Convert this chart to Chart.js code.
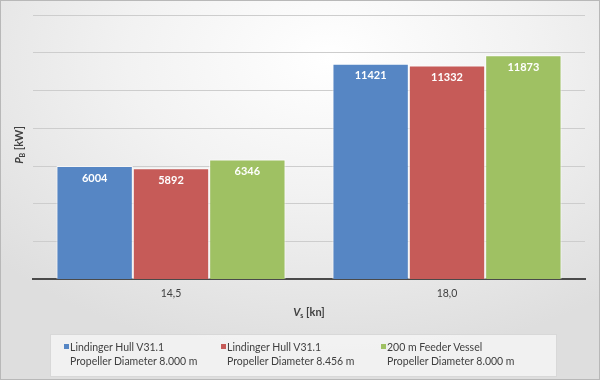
<!DOCTYPE html>
<html>
<head>
<meta charset="utf-8">
<script src="https://cdn.jsdelivr.net/npm/chart.js@4.4.0/dist/chart.umd.min.js"></script>
<style>
  html, body { margin: 0; padding: 0; }
  #wrap {
    position: relative; width: 598px; height: 378px;
    border: 1px solid #b8b8b8;
    background: radial-gradient(ellipse 75% 80% at 55% 15%, #ffffff 0%, #f2f2f2 45%, #dedede 100%);
    font-family: Lato, "Liberation Sans", sans-serif;
  }
  #chart { position: absolute; left: -1px; top: -1px; }
  #legend {
    position: absolute; left: 49px; top: 333px; width: 505px; height: 41px;
    background: rgba(244,244,244,0.85); border: 1px solid #d8d8d8;
    font-size: 10.5px; color: #404040; line-height: 14px;
  }
  .item { position: absolute; top: 5px; }
  .sw { position: absolute; left: -6px; top: 4px; width: 5px; height: 5px; }
</style>
</head>
<body>
<div id="wrap">
  <canvas id="chart" width="600" height="380"></canvas>
  <div id="legend"></div>
</div>
<script>
const speeds = ['14,5', '18,0'];
const seriesNames = [
    ['Lindinger Hull V31.1', 'Propeller Diameter 8.000 m'],
    ['Lindinger Hull V31.1', 'Propeller Diameter 8.456 m'],
    ['200 m Feeder Vessel', 'Propeller Diameter 8.000 m']
];
const hullA = [6004, 11421];
const hullB = [5892, 11332];
const feeder = [6346, 11873];
const colors = ['#5686c4', '#c65b58', '#9fc163'];

// value labels inside the top of each bar
const barLabels = {
    id: 'barLabels',
    afterDatasetsDraw(chart) {
        const ctx = chart.ctx;
        ctx.save();
        ctx.font = 'bold 11px Lato, "Liberation Sans", sans-serif';
        ctx.fillStyle = '#ffffff';
        ctx.textAlign = 'center';
        ctx.textBaseline = 'middle';
        chart.data.datasets.forEach((ds, i) => {
            chart.getDatasetMeta(i).data.forEach((bar, j) => {
                ctx.fillText(ds.data[j], bar.x, bar.y + 12);
            });
        });
        ctx.restore();
    }
};

// axis titles with subscripts
const axisTitles = {
    id: 'axisTitles',
    afterDraw(chart) {
        const ctx = chart.ctx;
        const area = chart.chartArea;
        ctx.save();
        ctx.fillStyle = '#404040';
        ctx.textBaseline = 'alphabetic';

        function drawTitle(main, sub, rest) {
            ctx.font = 'italic bold 11px Lato, "Liberation Sans", sans-serif';
            const w1 = ctx.measureText(main).width;
            ctx.font = 'bold 7px Lato, "Liberation Sans", sans-serif';
            const w2 = ctx.measureText(sub).width;
            ctx.font = 'bold 11px Lato, "Liberation Sans", sans-serif';
            const w3 = ctx.measureText(rest).width;
            let x = -(w1 + w2 + w3) / 2;
            ctx.font = 'italic bold 11px Lato, "Liberation Sans", sans-serif';
            ctx.fillText(main, x, 4);
            x += w1;
            ctx.font = 'bold 7px Lato, "Liberation Sans", sans-serif';
            ctx.fillText(sub, x, 6);
            x += w2;
            ctx.font = 'bold 11px Lato, "Liberation Sans", sans-serif';
            ctx.fillText(rest, x, 4);
        }

        ctx.save();
        ctx.translate((area.left + area.right) / 2, 312);
        drawTitle('V', 's', ' [kn]');
        ctx.restore();

        ctx.save();
        ctx.translate(19, 145);
        ctx.rotate(-Math.PI / 2);
        drawTitle('P', 'B', ' [kW]');
        ctx.restore();

        ctx.restore();
    }
};

new Chart(document.getElementById('chart'), {
    type: 'bar',
    data: {
        labels: speeds,
        datasets: [hullA, hullB, feeder].map((d, i) => ({
            label: seriesNames[i].join(' '),
            data: d,
            backgroundColor: colors[i],
            borderColor: 'rgba(255,255,255,0.8)',
            borderWidth: 1,
            categoryPercentage: 0.83,
            barPercentage: 1
        }))
    },
    options: {
        responsive: false,
        animation: false,
        layout: { padding: { left: 33, right: 15, top: 15, bottom: 72 } },
        plugins: { legend: { display: false }, tooltip: { enabled: false } },
        scales: {
            x: {
                grid: { display: false, drawTicks: false },
                border: { display: true, color: '#4a4a4a', width: 2 },
                ticks: { color: '#404040', padding: 8, font: { family: 'Lato, "Liberation Sans", sans-serif', size: 10.5 } }
            },
            y: {
                min: 0,
                max: 14000,
                ticks: { display: false, stepSize: 2000 },
                border: { display: false },
                grid: { color: '#cdcdcd', lineWidth: 1, drawTicks: false }
            }
        }
    },
    plugins: [barLabels, axisTitles]
});

// legend as html, two lines per entry
const legend = document.getElementById('legend');
const lefts = [19, 176, 336];
seriesNames.forEach((lines, i) => {
    const item = document.createElement('div');
    item.className = 'item';
    item.style.left = lefts[i] + 'px';
    item.innerHTML = '<span class="sw" style="background:' + colors[i] + '"></span>' + lines[0] + '<br>' + lines[1];
    legend.appendChild(item);
});
</script>
</body>
</html>
